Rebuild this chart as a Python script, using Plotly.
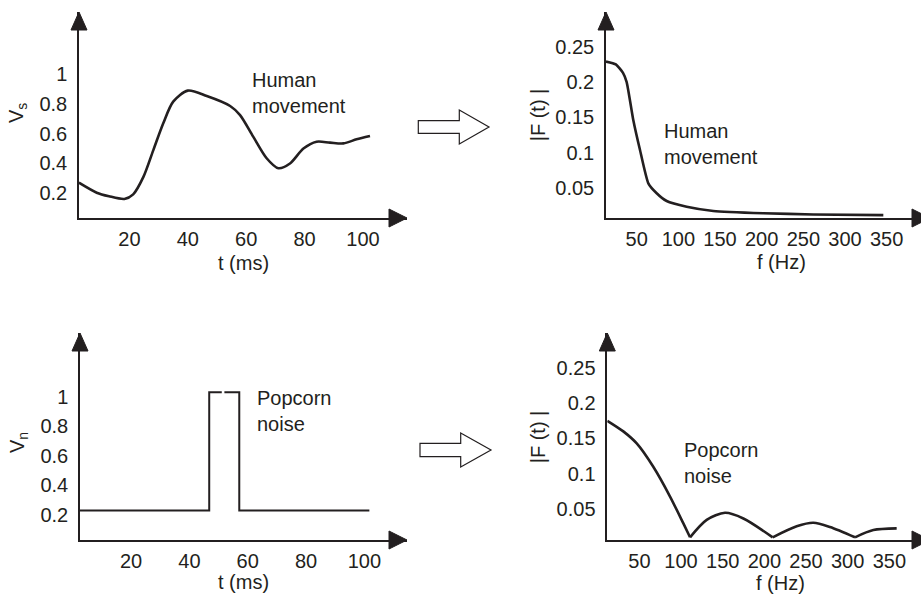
import plotly.graph_objects as go

# ---- data -------------------------------------------------------------
# Human movement signal, time domain
human_t = [2.7, 8.8, 13.0, 18.3, 21.3, 24.8, 28.2, 31.6, 35.0, 40.0, 46.5, 54.5,
           57.9, 62.4, 67.0, 71.0, 75.0, 79.6, 84.1, 88.7, 93.3, 97.8, 102.4]
human_v = [0.271, 0.204, 0.18, 0.162, 0.193, 0.31, 0.49, 0.67, 0.815, 0.889, 0.853, 0.786,
           0.725, 0.58, 0.435, 0.368, 0.40, 0.50, 0.546, 0.54, 0.535, 0.562, 0.585]

# Human movement spectrum
human_f = [13.2, 25, 33.6, 38, 46, 54, 64, 74, 86, 110, 142, 202, 262, 346]
human_F = [0.229, 0.225, 0.213, 0.200, 0.146, 0.104, 0.057, 0.043, 0.032, 0.024,
           0.018, 0.0147, 0.013, 0.012]

# Popcorn noise pulse, time domain (None marks a break in the line)
popcorn_t = [2.5, 46.8, 46.8, 51.1, None, 52.0, 57.1, 57.1, 101.7]
popcorn_v = [0.23, 0.23, 1.03, 1.03, None, 1.03, 1.03, 0.23, 0.23]

# Popcorn noise spectrum, split into lobes at the zeros
popcorn_lobes_f = [
    [11.5, 30.7, 46.8, 66.7, 86.8, 102.8, 110.8],
    [110.8, 130.8, 152.8, 174.8, 210.0],
    [210.0, 238.8, 258.8, 278.8, 308.8],
    [308.8, 330.8, 358.8],
]
popcorn_lobes_F = [
    [0.175, 0.16, 0.143, 0.110, 0.068, 0.030, 0.0104],
    [0.0104, 0.035, 0.045, 0.037, 0.0104],
    [0.0104, 0.026, 0.031, 0.025, 0.0104],
    [0.0104, 0.0206, 0.023],
]

time_ticks = [20, 40, 60, 80, 100]
volt_ticks = [0.2, 0.4, 0.6, 0.8, 1]
volt_labels = ["0.2", "0.4", "0.6", "0.8", "1"]
freq_ticks = [50, 100, 150, 200, 250, 300, 350]
amp_ticks = [0.05, 0.1, 0.15, 0.2, 0.25]
amp_labels = ["0.05", "0.1", "0.15", "0.2", "0.25"]

# ---- layout helpers ---------------------------------------------------
W, H = 921, 594
INK = "#231f20"
FONT = "Liberation Sans, Arial, sans-serif"
FS = 20


def fx(p):
    return p / W


def fy(p):
    return 1 - p / H


fig = go.Figure()

# pixel boxes of each panel: left, right, top, bottom
boxes = {
    1: (79, 407, 12, 218),
    2: (606, 921, 12, 218),
    3: (80, 407, 333, 540),
    4: (607.3, 921, 333, 540),
}
xranges = {1: [2.74, 115.07], 2: [13.2, 391.2], 3: [2.5, 114.6], 4: [11.5, 388.0]}
yranges = {1: [0.034, 1.417], 2: [0.008, 0.299], 3: [0.031, 1.43], 4: [0.0066, 0.299]}
xticks = {1: time_ticks, 2: freq_ticks, 3: time_ticks, 4: freq_ticks}
yticks = {1: (volt_ticks, volt_labels), 2: (amp_ticks, amp_labels),
          3: (volt_ticks, volt_labels), 4: (amp_ticks, amp_labels)}

line_style = dict(color=INK, width=2.6)

fig.add_trace(go.Scatter(x=human_t, y=human_v, mode="lines", line=dict(shape="spline", smoothing=0.8, **line_style),
                         xaxis="x", yaxis="y", hoverinfo="skip"))
fig.add_trace(go.Scatter(x=human_f, y=human_F, mode="lines", line=dict(shape="spline", smoothing=0.5, **line_style),
                         xaxis="x2", yaxis="y2", hoverinfo="skip"))
fig.add_trace(go.Scatter(x=popcorn_t, y=popcorn_v, mode="lines", line=dict(color=INK, width=2),
                         connectgaps=False, xaxis="x3", yaxis="y3", hoverinfo="skip"))
for lf, lF in zip(popcorn_lobes_f, popcorn_lobes_F):
    fig.add_trace(go.Scatter(x=lf, y=lF, mode="lines", line=dict(shape="spline", smoothing=0.8, **line_style),
                             xaxis="x4", yaxis="y4", hoverinfo="skip"))

layout = dict(
    width=W, height=H, margin=dict(l=0, r=0, t=0, b=0),
    paper_bgcolor="white", plot_bgcolor="white", showlegend=False,
    font=dict(family=FONT, size=FS, color=INK),
)
shapes = []
for i, (l, r, t, b) in boxes.items():
    suf = "" if i == 1 else str(i)
    layout["xaxis" + suf] = dict(
        domain=[fx(l), fx(r)], range=xranges[i], anchor="y" + suf,
        showline=True, linecolor=INK, linewidth=1.5, showgrid=False, zeroline=False,
        ticks="", tickmode="array", tickvals=xticks[i], ticklabelstandoff=2,
        tickfont=dict(family=FONT, size=FS, color=INK), fixedrange=True,
    )
    tv, tt = yticks[i]
    layout["yaxis" + suf] = dict(
        domain=[fy(b), fy(t)], range=yranges[i], anchor="x" + suf,
        showline=True, linecolor=INK, linewidth=1.5, showgrid=False, zeroline=False,
        ticks="", tickmode="array", tickvals=tv, ticktext=tt, ticklabelstandoff=6,
        tickfont=dict(family=FONT, size=FS, color=INK), fixedrange=True,
    )
    # arrowheads at the ends of both axes
    shapes.append(dict(type="path", xref="paper", yref="paper",
                       path=f"M {fx(l - 8)} {fy(t + 18)} L {fx(l)} {fy(t)} L {fx(l + 8)} {fy(t + 18)} Z",
                       fillcolor=INK, line=dict(color=INK, width=1)))
    tip = r if r < W else 930
    shapes.append(dict(type="path", xref="paper", yref="paper",
                       path=f"M {fx(tip - 18)} {fy(b - 9)} L {fx(tip)} {fy(b)} L {fx(tip - 18)} {fy(b + 9)} Z",
                       fillcolor=INK, line=dict(color=INK, width=1)))


# hollow block arrows between the time and frequency panels
def block_arrow(x0, xb, xt, ym, shaft_half, head_half):
    pts = [(x0, ym - shaft_half), (xb, ym - shaft_half), (xb, ym - head_half), (xt, ym),
           (xb, ym + head_half), (xb, ym + shaft_half), (x0, ym + shaft_half)]
    d = "M " + " L ".join(f"{fx(a)} {fy(c)}" for a, c in pts) + " Z"
    return dict(type="path", xref="paper", yref="paper", path=d,
                fillcolor="white", line=dict(color=INK, width=1.2))


shapes.append(block_arrow(418.3, 459.3, 489, 127, 6.3, 17))
shapes.append(block_arrow(420, 460.7, 491, 450, 6.7, 17))
layout["shapes"] = shapes

ann = []


def label(text, x, y, angle=0, xanchor="center", align="center"):
    ann.append(dict(text=text, x=fx(x), y=fy(y), xref="paper", yref="paper", showarrow=False,
                    xanchor=xanchor, yanchor="middle", align=align, textangle=angle,
                    font=dict(family=FONT, size=FS, color=INK)))


label("t (ms)", 243, 263)
label("f (Hz)", 781.7, 262)
label("t (ms)", 243.3, 582)
label("f (Hz)", 780, 583)
label("V<sub>s</sub>", 18, 113, angle=-90)
label("V<sub>n</sub>", 18, 443, angle=-90)
label("|F (t) |", 538.3, 115, angle=-90)
label("|F (t) |", 538.3, 437, angle=-90)
label("Human<br>movement", 250, 93, xanchor="left", align="left")
label("Human<br>movement", 662, 144, xanchor="left", align="left")
label("Popcorn<br>noise", 255, 411, xanchor="left", align="left")
label("Popcorn<br>noise", 682, 463, xanchor="left", align="left")
layout["annotations"] = ann

fig.update_layout(**layout)
fig.write_html("out.html", config={"displayModeBar": False})
